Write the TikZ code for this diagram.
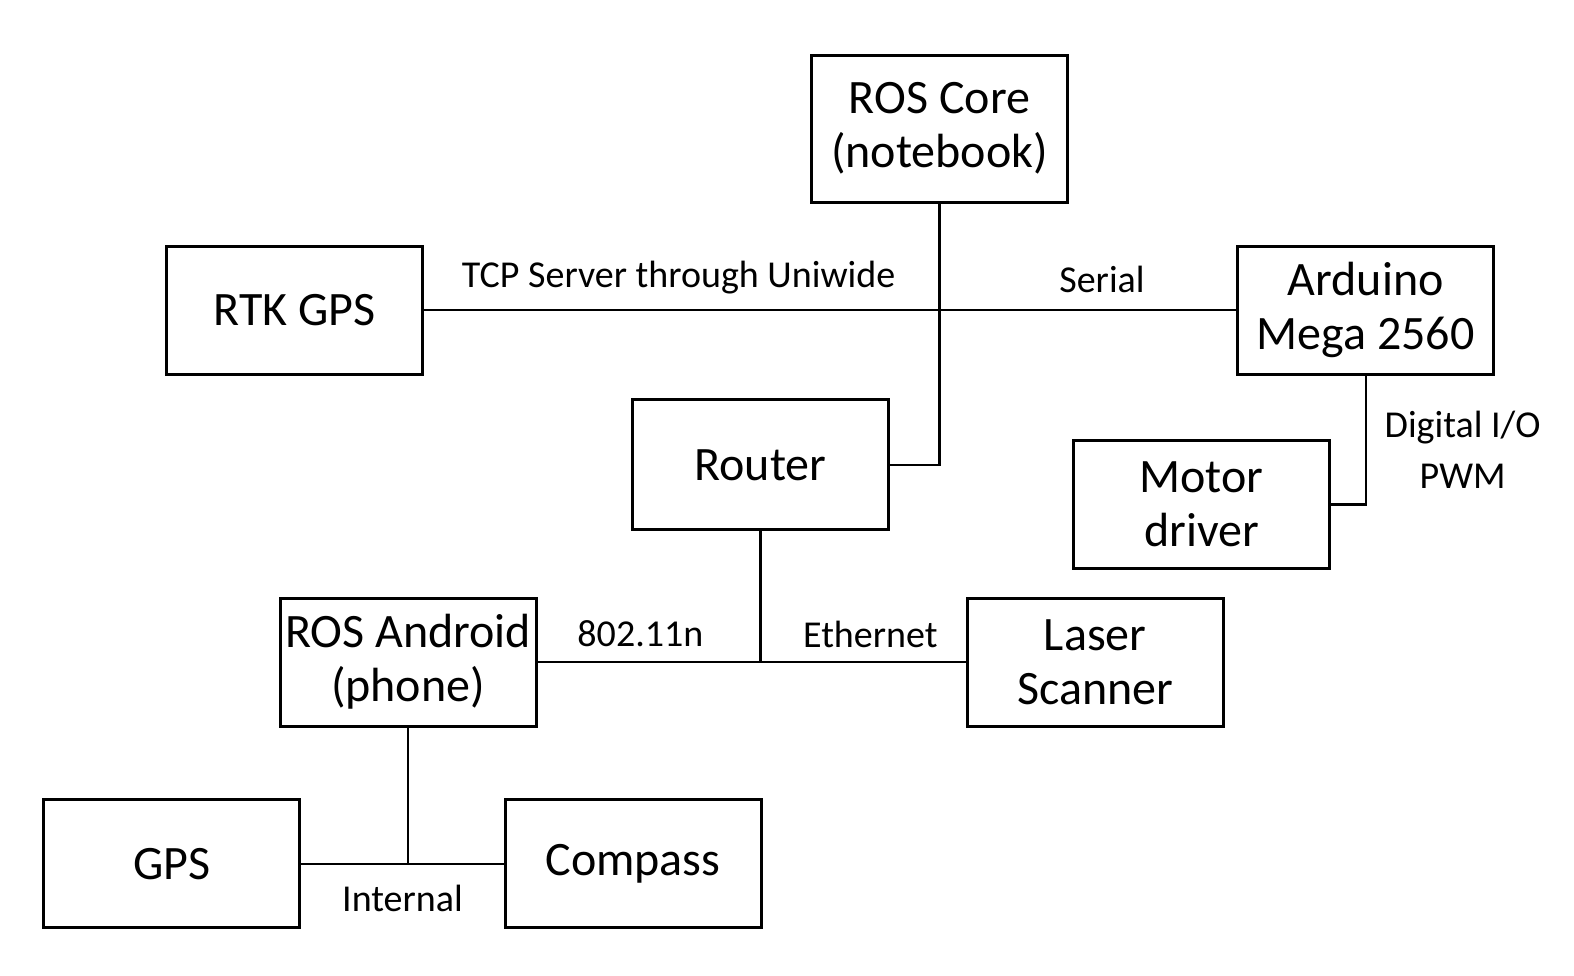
\documentclass[tikz,border=0pt]{standalone}
\usepackage{fontspec}
\setmainfont{Carlito}
\begin{document}
\begin{tikzpicture}[x=1pt,y=-1pt,
  blk/.style={draw, line width=3pt, minimum width=256pt, minimum height=128pt, inner sep=0pt, align=center, font=\fontsize{48}{54}\selectfont},
  lbl/.style={inner sep=0pt, font=\fontsize{38}{49}\selectfont, align=center},
  wire/.style={line width=2.3pt}]
\useasboundingbox[fill=white] (0,0) rectangle (1574,975);
\node[blk, minimum height=147pt] (rc) at (939.5,128.5) {ROS Core\\(notebook)};
\node[blk] (rtk) at (294.6,310) {RTK GPS};
\node[blk] (ard) at (1365.7,310) {Arduino\\Mega 2560};
\node[blk, minimum height=130pt] (router) at (760.4,464.8) {Router};
\node[blk] (motor) at (1201.5,504.4) {Motor\\driver};
\node[blk] (android) at (408,662) {ROS Android\\(phone)};
\node[blk] (laser) at (1095.2,662) {Laser\\Scanner};
\node[blk] (gps) at (171.6,863.8) {GPS};
\node[blk] (compass) at (633,863.8) {Compass};
\draw[wire] (rtk.east) -- (ard.west);
\draw[wire] (rc.south) |- (router.east);
\draw[wire] (ard.south) |- (motor.east);
\draw[wire] (android.east) -- (laser.west);
\draw[wire] (router.south) -- (router.south |- android.east);
\draw[wire] (gps.east) -- (compass.west);
\draw[wire] (android.south) -- (android.south |- gps.east);
\node[lbl] (l1) at (678.6,278) {TCP Server through Uniwide};
\node[lbl] (l2) at (1102,279) {Serial};
\node[lbl] (l3) at (1462.6,428) {Digital I/O};
\node[lbl] (l4) at (1462.6,475.8) {PWM};
\node[lbl] (l5) at (640.4,633.4) {802.11n};
\node[lbl] (l6) at (870.3,634.4) {Ethernet};
\node[lbl] (l7) at (402.5,898.4) {Internal};
\end{tikzpicture}
\end{document}
